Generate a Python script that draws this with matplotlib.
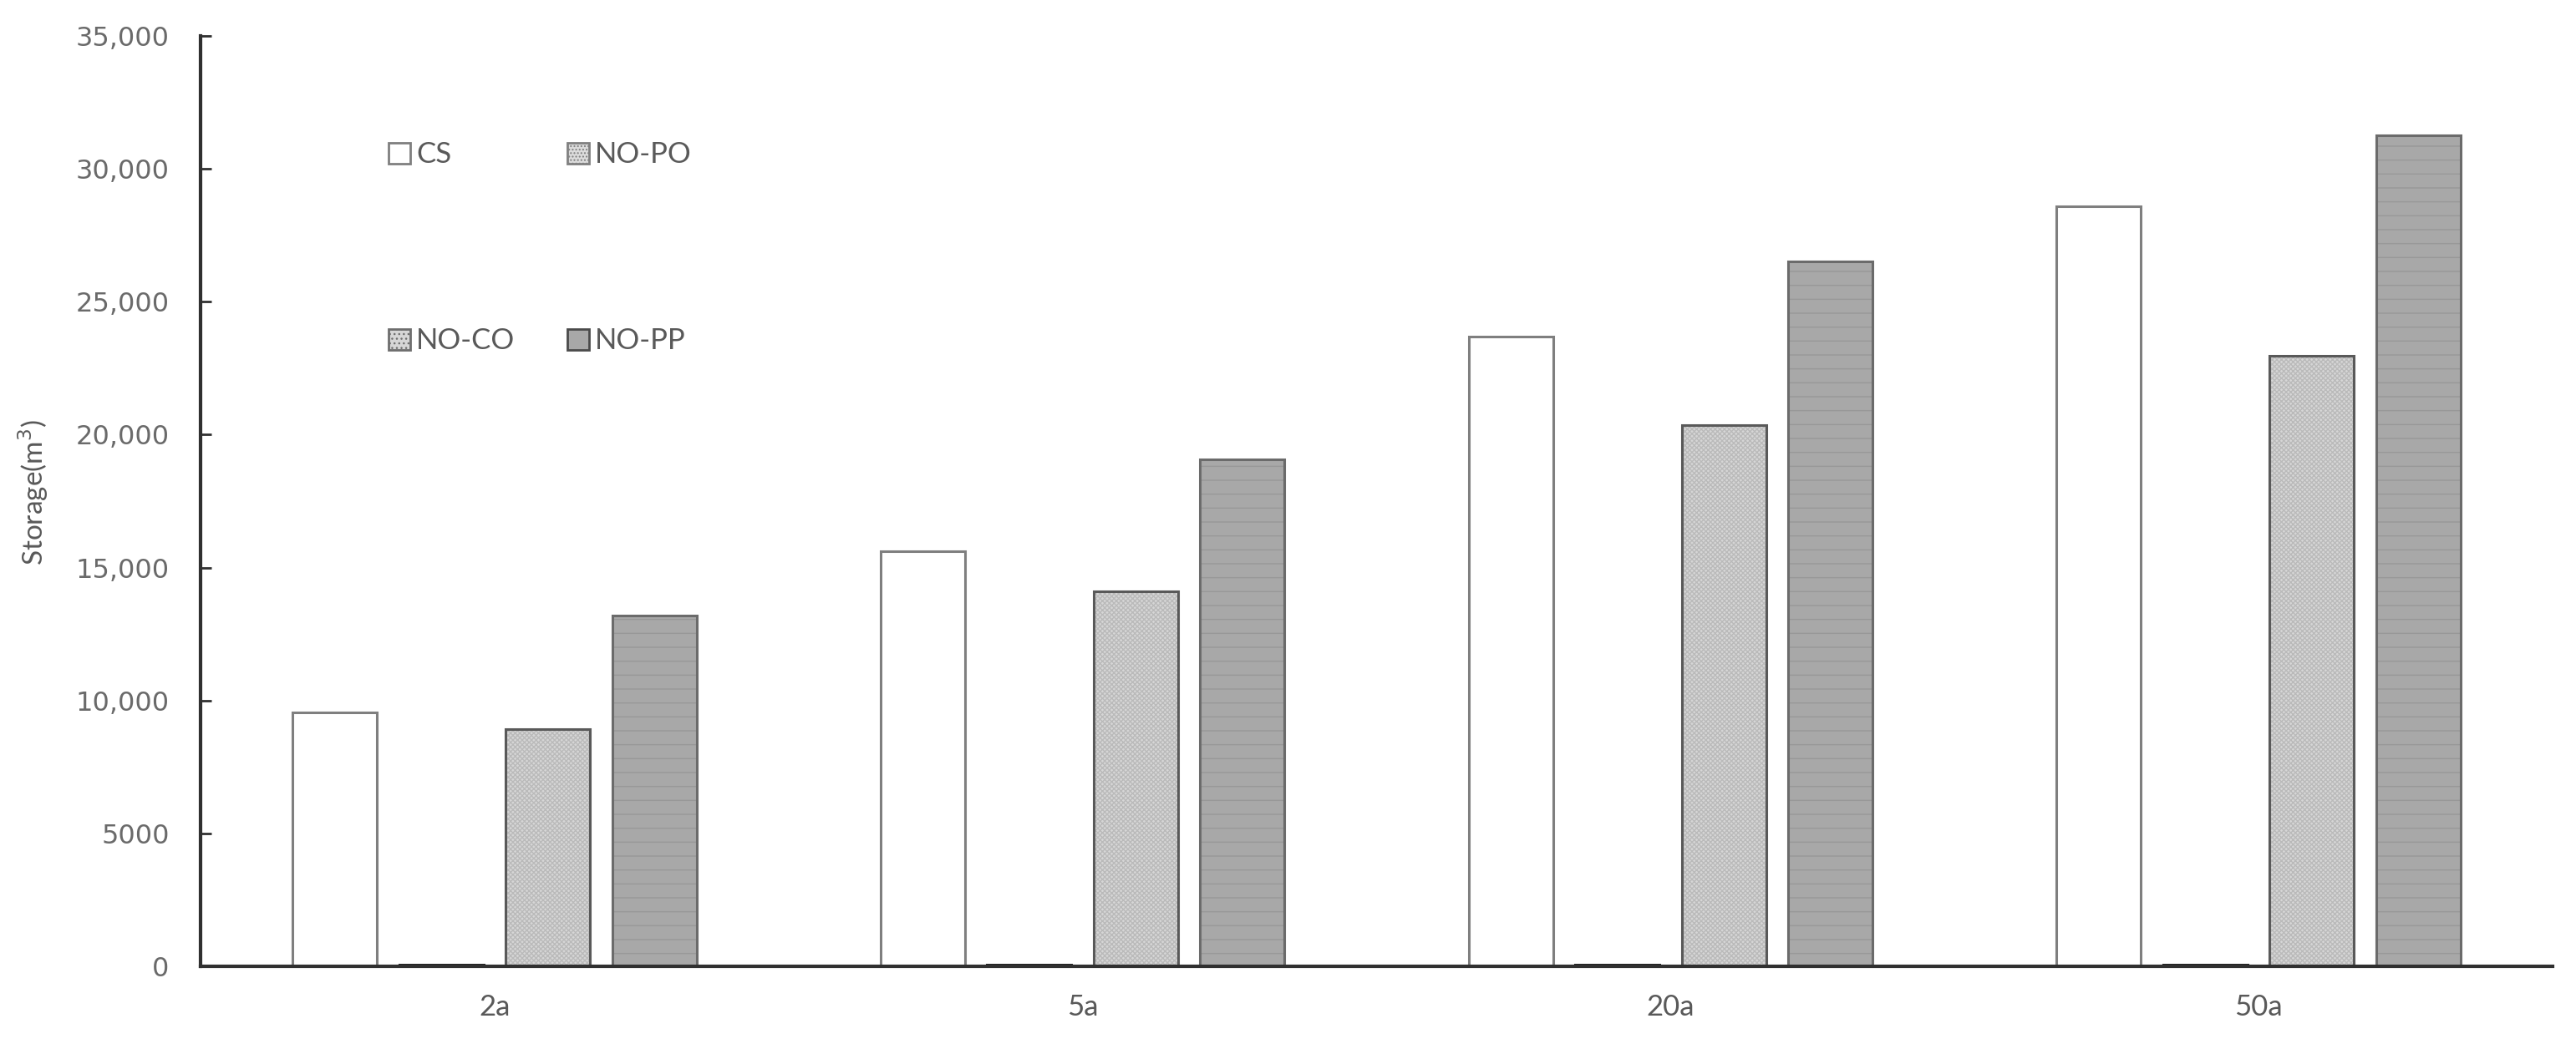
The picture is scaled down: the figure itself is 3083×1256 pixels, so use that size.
import numpy as np
import matplotlib
matplotlib.use("Agg")
import matplotlib.pyplot as plt
from matplotlib.ticker import FuncFormatter
from matplotlib.patches import Patch

# data
periods = ['2a', '5a', '20a', '50a']
series = ['CS', 'NO-PO', 'NO-CO', 'NO-PP']
cs = [9560, 15630, 23680, 28580]
no_po = [60, 60, 60, 60]
no_co = [8930, 14120, 20350, 22960]
no_pp = [13180, 19060, 26510, 31260]
y_ticks = [0, 5000, 10000, 15000, 20000, 25000, 30000, 35000]

values = [cs, no_po, no_co, no_pp]
# face, hatch, hatch colour, bar outline, legend hatch, legend outline
styles = [
    ('white', '', 'white', '#7f7f7f', '', '#7f7f7f'),
    ('#dcdcdc', '....', '#b0b0b0', '#202020', '....', '#808080'),
    ('#d6d6d6', 'xxxxxx', '#bababa', '#595959', '...', '#6e6e6e'),
    ('#a8a8a8', '-', '#989898', '#6b6b6b', '', '#4a4a4a'),
]

plt.rcParams['hatch.linewidth'] = 1.0
label_grey = '#595959'

fig = plt.figure(figsize=(30.83, 12.56), dpi=100)
ax = fig.add_axes([240/3083, 1 - 1157/1256, (3055-240)/3083, (1157-43)/1256])

x = np.arange(len(periods))
step = 0.1812
width = 0.1435
offsets = (np.arange(len(series)) - 1.5) * step

for vals, st, off in zip(values, styles, offsets):
    face, hatch, hcol, ecol = st[:4]
    # hatch layer, then outline on top
    ax.bar(x + off, vals, width, color=face, hatch=hatch, edgecolor=hcol, linewidth=0)
    ax.bar(x + off, vals, width, facecolor='none', edgecolor=ecol, linewidth=2.2)

ax.set_xlim(-0.5, 3.5)
ax.set_ylim(0, 35000)
ax.set_yticks(y_ticks)
ax.yaxis.set_major_formatter(FuncFormatter(lambda v, p: '0' if v == 0 else ('5000' if v == 5000 else f'{int(v):,}')))
ax.set_xticks(x)
ax.set_xticklabels(periods, fontfamily='Lato', fontsize=25, color=label_grey)

for s in ['top', 'right']:
    ax.spines[s].set_visible(False)
for s in ['left', 'bottom']:
    ax.spines[s].set_linewidth(3)
    ax.spines[s].set_color('#303030')

ax.tick_params(axis='y', direction='in', length=9, width=2, color='#303030',
               labelsize=23, labelcolor='#6a6a6a', pad=27)
ax.tick_params(axis='x', length=0, pad=24)

ax.set_ylabel('Storage(m$^3$)', fontfamily='Lato', fontsize=24, color=label_grey)
ax.yaxis.set_label_coords(-0.064, 0.509)

handles = [Patch(facecolor=st[0], hatch=st[4], edgecolor=st[5], linewidth=2) for st in styles]
order = [0, 2, 1, 3]
leg = ax.legend([handles[i] for i in order], [series[i] for i in order], ncol=2,
                loc='upper left', bbox_to_anchor=(448/3083, 1 - 152/1256),
                bbox_transform=fig.transFigure, frameon=False,
                handlelength=0.75, handleheight=0.75, handletextpad=0.2,
                columnspacing=1.8, labelspacing=5.5, borderpad=0,
                prop={'family': 'Lato', 'size': 25})
for t in leg.get_texts():
    t.set_color(label_grey)

fig.savefig('out.png', dpi=100, facecolor='white')
